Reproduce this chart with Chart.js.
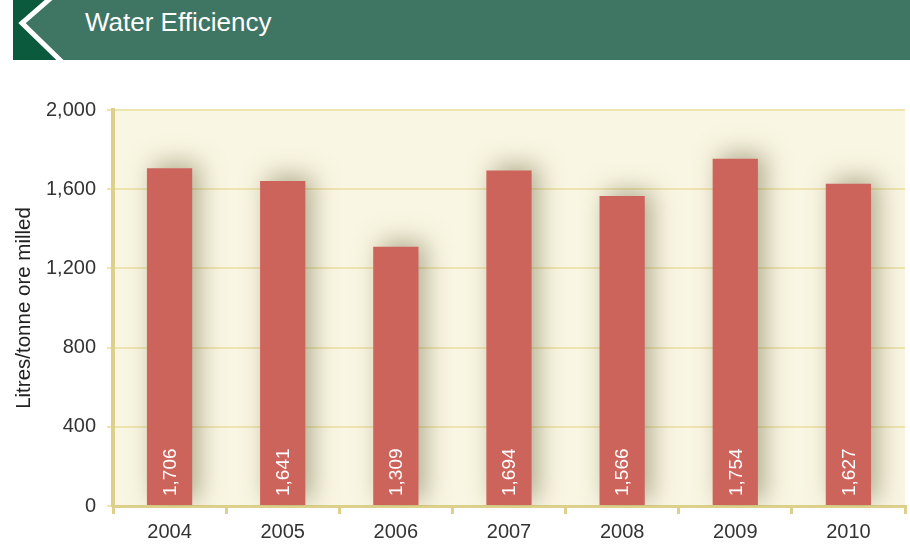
<!DOCTYPE html>
<html><head><meta charset="utf-8">
<script src="https://cdn.jsdelivr.net/npm/chart.js@4"></script>
<style>
html,body{margin:0;padding:0;background:#fff;width:910px;height:550px;overflow:hidden;}
#wrap{position:relative;width:910px;height:550px;}
#hdr{position:absolute;left:0;top:0;}
#title{position:absolute;left:85px;top:4px;color:#fff;font-family:"Liberation Sans Narrow","Arial Narrow",Arial,sans-serif;font-size:26px;line-height:36px;}
canvas{position:absolute;left:0;top:0;}
</style></head>
<body><div id="wrap">
<canvas id="c" width="910" height="550"></canvas>
<svg id="hdr" width="910" height="62">
<rect x="13" y="0" width="897" height="60" fill="#3e7563"/>
<polygon points="13,0 50,0 22,23 60,60 13,60" fill="#0b5a3e"/>
<polyline points="52,-3 22,23 62,62" fill="none" stroke="#fff" stroke-width="5"/>
</svg>
<div id="title">Water Efficiency</div>
</div>
<script>
const categories = ["2004","2005","2006","2007","2008","2009","2010"];
const waterUse = [1706,1641,1309,1694,1566,1754,1627];
const yTicks = [0,400,800,1200,1600,2000];

const FONT = '"Liberation Sans Narrow","Arial Narrow",Arial,sans-serif';
const fmt = v => v.toLocaleString('en-US');

const bgPlugin = {
  id:'bg',
  beforeDraw(chart){
    const {ctx, chartArea:a} = chart;
    ctx.save();
    ctx.fillStyle = '#f9f6e3';
    ctx.fillRect(a.left, a.top, a.right-a.left, a.bottom-a.top);
    ctx.restore();
  }
};
const shadowPlugin = {
  id:'shadow',
  beforeDatasetsDraw(chart){
    const ctx = chart.ctx;
    ctx.save();
    ctx.shadowColor = 'rgba(110,100,60,0.5)';
    ctx.shadowBlur = 24;
    ctx.shadowOffsetX = 7;
    ctx.shadowOffsetY = -5;
  },
  afterDatasetsDraw(chart){
    chart.ctx.restore();
    const ctx = chart.ctx;
    const meta = chart.getDatasetMeta(0);
    const y0 = chart.scales.y.getPixelForValue(0);
    ctx.save();
    ctx.fillStyle = '#fff';
    ctx.font = '19px ' + FONT;
    ctx.textAlign = 'left';
    ctx.textBaseline = 'middle';
    meta.data.forEach((bar, i) => {
      ctx.save();
      ctx.translate(bar.x + 1, y0 - 10);
      ctx.rotate(-Math.PI/2);
      ctx.fillText(fmt(waterUse[i]), 0, 0);
      ctx.restore();
    });
    ctx.restore();
  }
};

new Chart(document.getElementById('c'), {
  type:'bar',
  data:{ labels:categories, datasets:[{ data:waterUse, backgroundColor:'#cd645c', borderWidth:0, barPercentage:0.4, categoryPercentage:1 }]},
  options:{
    responsive:false, animation:false,
    layout:{ padding:{ left:0, top:110, right:5, bottom:0 } },
    plugins:{ legend:{display:false}, tooltip:{enabled:false} },
    scales:{
      x:{
        offset:true,
        grid:{ offset:true, drawOnChartArea:false, drawTicks:true, tickLength:8, color:'#ddd08a', lineWidth:3 },
        border:{ display:true, color:'#ddd08a', width:3 },
        ticks:{ color:'#333', font:{ family:FONT, size:20 }, padding:6 },
        afterFit(s){ s.height = 44; }
      },
      y:{
        min:0, max:2000,
        afterBuildTicks(s){ s.ticks = yTicks.map(v=>({value:v})); },
        grid:{ color:'#ede4b0', lineWidth:2, tickLength:6, drawTicks:true },
        border:{ display:true, color:'#ddd08a', width:4 },
        ticks:{ color:'#333', font:{ family:FONT, size:20 }, padding:11, callback:v=>fmt(v) },
        title:{ display:true, text:'Litres/tonne ore milled', color:'#222', font:{ family:FONT, size:20.5 }, padding:{top:12, bottom:0} },
        afterFit(s){ s.width = 113; }
      }
    }
  },
  plugins:[bgPlugin, shadowPlugin]
});
</script>
</body></html>
